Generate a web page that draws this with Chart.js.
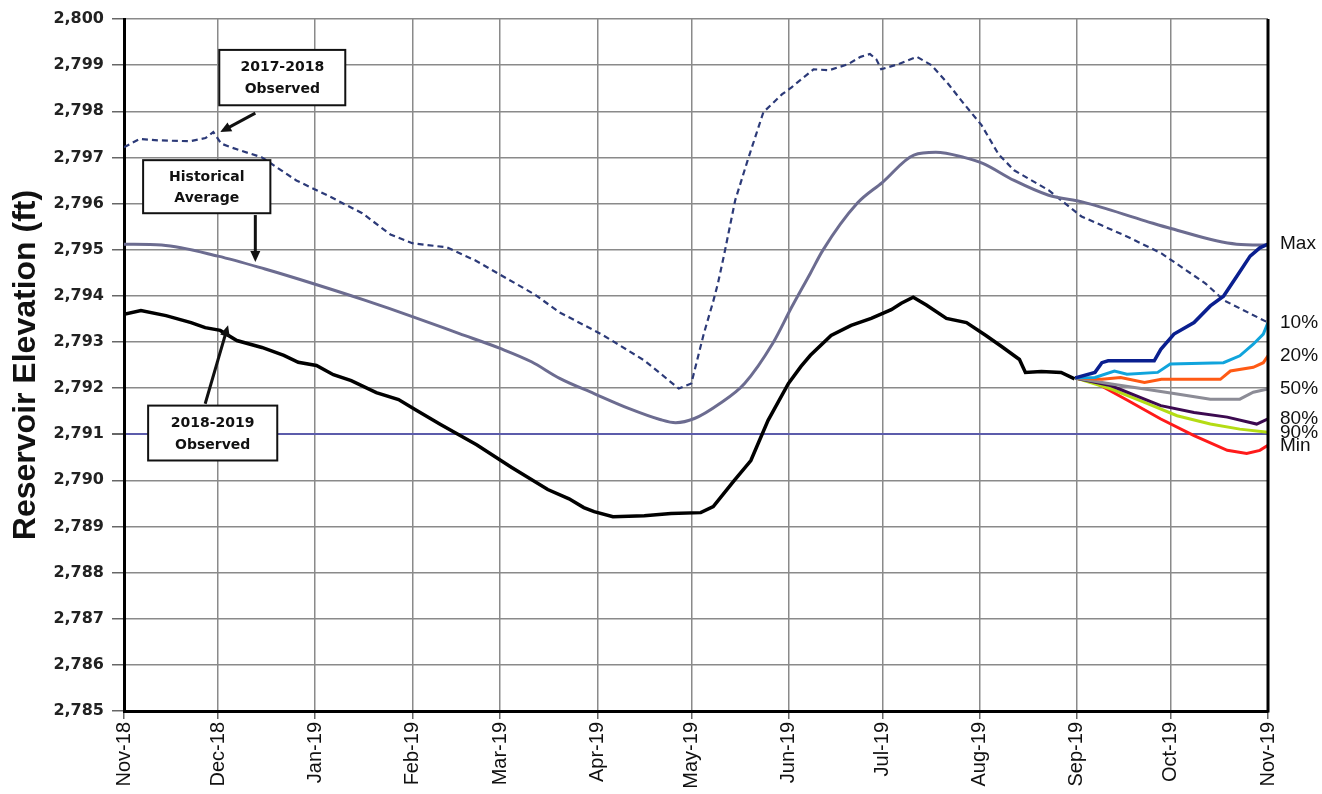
<!DOCTYPE html>
<html>
<head>
<meta charset="utf-8">
<script src="https://cdn.jsdelivr.net/npm/chart.js@4/dist/chart.umd.min.js"></script>
<style>
  html, body { margin: 0; padding: 0; background: #fff; }
  #wrap { width: 1322px; height: 794px; }
</style>
</head>
<body>
<div id="wrap"><canvas id="c" width="1322" height="794"></canvas></div>
<script>
// ---- Axis categories (days since 1 Nov 2018) ----
const monthDays   = [0, 30, 61, 92, 120, 151, 181, 212, 242, 273, 304, 334, 365];
const monthLabels = ['Nov-18','Dec-18','Jan-19','Feb-19','Mar-19','Apr-19','May-19','Jun-19','Jul-19','Aug-19','Sep-19','Oct-19','Nov-19'];
const yMin = 2785, yMax = 2800;

// ---- Historical Average ----
const histDays   = [0, 12, 30, 45, 61, 77, 92, 107, 120, 130, 139, 150, 161, 171, 176, 182, 190, 198, 207, 213, 219, 223, 234, 242, 252, 259, 268, 274, 284, 295, 306, 326, 334, 355, 365];
const histValues = [2795.12, 2795.10, 2794.86, 2794.58, 2794.25, 2793.90, 2793.55, 2793.18, 2792.86, 2792.57, 2792.21, 2791.88, 2791.56, 2791.32, 2791.25, 2791.34, 2791.66, 2792.10, 2792.97, 2793.75, 2794.49, 2794.99, 2796.01, 2796.46, 2797.05, 2797.11, 2797.00, 2796.87, 2796.50, 2796.18, 2796.03, 2795.62, 2795.46, 2795.12, 2795.10];

// ---- 2017-2018 Observed ----
const obs1718Days   = [0, 5, 11, 21, 26, 28.5, 31, 34, 44, 55, 66, 76, 85, 92, 103, 112, 131, 139, 150, 153, 166, 177, 181, 185, 188, 189.5, 191.5, 195, 199, 204, 210, 213, 220, 225, 231, 235, 238, 240, 241.6, 247, 253, 257.6, 263, 268, 273.6, 279, 284, 295, 305.5, 320.5, 331, 345, 351, 365];
const obs1718Values = [2797.22, 2797.40, 2797.37, 2797.35, 2797.42, 2797.55, 2797.30, 2797.22, 2797.00, 2796.50, 2796.14, 2795.79, 2795.33, 2795.14, 2795.05, 2794.77, 2794.03, 2793.64, 2793.25, 2793.14, 2792.60, 2791.99, 2792.10, 2793.18, 2793.88, 2794.27, 2794.90, 2796.07, 2796.94, 2797.98, 2798.37, 2798.52, 2798.91, 2798.89, 2799.02, 2799.18, 2799.24, 2799.13, 2798.91, 2799.02, 2799.18, 2799.00, 2798.59, 2798.16, 2797.70, 2797.07, 2796.72, 2796.29, 2795.72, 2795.27, 2794.92, 2794.27, 2793.90, 2793.42];

// ---- 2018-2019 Observed ----
const obs1819Days   = [0, 5.4, 13.4, 21.4, 25.9, 30.7, 36, 44, 51, 55.6, 61.4, 66.8, 72.5, 80.5, 87.6, 93, 101, 112.5, 123.7, 135.2, 142, 146.7, 150, 156, 166, 174.5, 184, 188, 194.6, 200, 205.5, 212, 216, 219, 225.6, 232, 238.4, 244.8, 248, 251.8, 256, 262.4, 268.8, 275, 280, 285.7, 287.6, 292.7, 299, 303.3];
const obs1819Values = [2793.60, 2793.68, 2793.57, 2793.42, 2793.31, 2793.25, 2793.03, 2792.88, 2792.71, 2792.56, 2792.49, 2792.29, 2792.16, 2791.90, 2791.75, 2791.53, 2791.21, 2790.77, 2790.28, 2789.80, 2789.60, 2789.41, 2789.32, 2789.21, 2789.23, 2789.28, 2789.30, 2789.43, 2789.99, 2790.43, 2791.30, 2792.10, 2792.47, 2792.71, 2793.14, 2793.36, 2793.51, 2793.70, 2793.84, 2793.97, 2793.80, 2793.51, 2793.42, 2793.14, 2792.90, 2792.62, 2792.34, 2792.36, 2792.34, 2792.20];

// ---- Projections (Sep 2019 - Nov 2019) ----
const maxDays   = [303.5, 309.8, 312, 314, 328.7, 330.8, 335, 341.4, 346.6, 350.8, 355, 359.3, 362.4, 365];
const maxValues = [2792.22, 2792.34, 2792.55, 2792.59, 2792.59, 2792.84, 2793.17, 2793.42, 2793.78, 2793.99, 2794.42, 2794.86, 2795.04, 2795.12];
const p10Days   = [303.5, 309.8, 316, 320, 329.8, 333.8, 350.8, 356, 360.3, 363.5, 365];
const p10Values = [2792.22, 2792.23, 2792.37, 2792.30, 2792.34, 2792.52, 2792.55, 2792.70, 2792.95, 2793.17, 2793.42];
const p20Days   = [303.5, 312, 318, 325.6, 331, 349.8, 353, 360.3, 363.5, 365];
const p20Values = [2792.22, 2792.19, 2792.23, 2792.12, 2792.19, 2792.19, 2792.37, 2792.45, 2792.55, 2792.70];
const p50Days   = [303.5, 315, 325.6, 336, 346.6, 356, 360.3, 365];
const p50Values = [2792.22, 2792.09, 2791.98, 2791.87, 2791.76, 2791.76, 2791.91, 2791.98];
const p80Days   = [303.5, 315, 325.6, 330.8, 341.4, 352, 361.4, 365];
const p80Values = [2792.22, 2792.05, 2791.76, 2791.62, 2791.47, 2791.37, 2791.22, 2791.33];
const p90Days   = [303.5, 315, 325.6, 336, 346.6, 356, 365];
const p90Values = [2792.22, 2791.98, 2791.69, 2791.40, 2791.22, 2791.11, 2791.04];
const minDays   = [303.5, 309.8, 320.3, 330.8, 341.4, 352, 358.2, 362.4, 365];
const minValues = [2792.22, 2792.12, 2791.73, 2791.33, 2790.97, 2790.65, 2790.58, 2790.65, 2790.76];

// ---- Text ----
const endLabels = ['Max', '10%', '20%', '50%', '80%', '90%', 'Min'];
const yTitle = 'Reservoir Elevation (ft)';
const notes = [
  { lines: ['2017-2018', 'Observed'],   box: [30.4, 2799.33, 70.6, 2798.13], arrow: [41.9, 2797.96, 30.7, 2797.55] },
  { lines: ['Historical', 'Average'],   box: [6.1, 2796.94, 46.7, 2795.79],  arrow: [41.9, 2795.75, 41.9, 2794.73] },
  { lines: ['2018-2019', 'Observed'],   box: [7.7, 2791.62, 48.9, 2790.43],  arrow: [25.9, 2791.66, 33.2, 2793.36] }
];

function pts(d, v) { return d.map((x, i) => ({ x: x, y: v[i] })); }

const projections = [
  { d: maxDays, v: maxValues, c: '#0a1f8f', w: 3.5 },
  { d: p10Days, v: p10Values, c: '#10a4dc', w: 3 },
  { d: p20Days, v: p20Values, c: '#ff5a14', w: 3 },
  { d: p50Days, v: p50Values, c: '#8c8c96', w: 3 },
  { d: p80Days, v: p80Values, c: '#3c0a50', w: 3 },
  { d: p90Days, v: p90Values, c: '#b4dc14', w: 3 },
  { d: minDays, v: minValues, c: '#ff1a1a', w: 3 }
];

const datasets = [];
projections.forEach((p, i) => {
  datasets.push({ label: endLabels[i], data: pts(p.d, p.v), borderColor: p.c, borderWidth: p.w, pointRadius: 0, tension: 0, order: 1, endLabel: endLabels[i] });
});
datasets.push({ label: '2018-2019 Observed', data: pts(obs1819Days, obs1819Values), borderColor: '#000000', borderWidth: 3.5, pointRadius: 0, tension: 0, order: 2 });
datasets.push({ label: 'Historical Average', data: pts(histDays, histValues), borderColor: '#6c6c90', borderWidth: 3, pointRadius: 0, cubicInterpolationMode: 'monotone', order: 3 });
datasets.push({ label: '2017-2018 Observed', data: pts(obs1718Days, obs1718Values), borderColor: '#2c3a78', borderWidth: 2.2, borderDash: [6, 4], pointRadius: 0, tension: 0, order: 4 });

const overlay = {
  id: 'overlay',
  afterDatasetsDraw(chart) {
    const ctx = chart.ctx, xs = chart.scales.x, ys = chart.scales.y, a = chart.chartArea;
    ctx.save();
    // right frame line
    ctx.strokeStyle = '#000'; ctx.lineWidth = 3;
    ctx.beginPath(); ctx.moveTo(a.right, a.top); ctx.lineTo(a.right, a.bottom + 1.5); ctx.stroke();
    // annotations
    notes.forEach(n => {
      const x1 = xs.getPixelForValue(n.box[0]), y1 = ys.getPixelForValue(n.box[1]);
      const x2 = xs.getPixelForValue(n.box[2]), y2 = ys.getPixelForValue(n.box[3]);
      ctx.fillStyle = '#fff'; ctx.fillRect(x1, y1, x2 - x1, y2 - y1);
      ctx.strokeStyle = '#111'; ctx.lineWidth = 2; ctx.strokeRect(x1, y1, x2 - x1, y2 - y1);
      ctx.fillStyle = '#111'; ctx.font = 'bold 14px "DejaVu Sans"'; ctx.textAlign = 'center'; ctx.textBaseline = 'middle';
      const cx = (x1 + x2) / 2, h = y2 - y1;
      ctx.fillText(n.lines[0], cx, y1 + h * 0.32);
      ctx.fillText(n.lines[1], cx, y1 + h * 0.72);
      // arrow
      const ax1 = xs.getPixelForValue(n.arrow[0]), ay1 = ys.getPixelForValue(n.arrow[1]);
      const ax2 = xs.getPixelForValue(n.arrow[2]), ay2 = ys.getPixelForValue(n.arrow[3]);
      const ang = Math.atan2(ay2 - ay1, ax2 - ax1), hl = 11, hw = 5;
      ctx.strokeStyle = '#111'; ctx.lineWidth = 3;
      ctx.beginPath(); ctx.moveTo(ax1, ay1);
      ctx.lineTo(ax2 - Math.cos(ang) * hl * 0.8, ay2 - Math.sin(ang) * hl * 0.8); ctx.stroke();
      ctx.beginPath();
      ctx.moveTo(ax2, ay2);
      ctx.lineTo(ax2 - Math.cos(ang) * hl - Math.sin(ang) * hw, ay2 - Math.sin(ang) * hl + Math.cos(ang) * hw);
      ctx.lineTo(ax2 - Math.cos(ang) * hl + Math.sin(ang) * hw, ay2 - Math.sin(ang) * hl - Math.cos(ang) * hw);
      ctx.closePath(); ctx.fillStyle = '#111'; ctx.fill();
    });
    // end labels
    ctx.font = '19px "Liberation Sans"'; ctx.textAlign = 'left'; ctx.textBaseline = 'middle'; ctx.fillStyle = '#111';
    chart.data.datasets.forEach((ds, i) => {
      if (!ds.endLabel) return;
      const meta = chart.getDatasetMeta(i);
      const last = meta.data[meta.data.length - 1];
      ctx.fillText(ds.endLabel, a.right + 12, last.y);
    });
    ctx.restore();
  }
};

new Chart(document.getElementById('c'), {
  type: 'line',
  data: { datasets: datasets },
  options: {
    responsive: false,
    animation: false,
    layout: { padding: { top: 19, right: 54, left: 0, bottom: 0 } },
    plugins: { legend: { display: false }, tooltip: { enabled: false } },
    scales: {
      x: {
        type: 'linear', min: 0, max: 365,
        afterBuildTicks: s => { s.ticks = monthDays.map(v => ({ value: v })); },
        afterFit: s => { s.height = 83; },
        ticks: {
          autoSkip: false, minRotation: 90, maxRotation: 90, padding: 3, color: '#111',
          font: { family: 'Liberation Sans', size: 20 },
          callback: v => monthLabels[monthDays.indexOf(v)]
        },
        grid: { color: '#8a8a8a', lineWidth: 1.5, tickLength: 8, tickColor: '#666' },
        border: { color: '#000', width: 3 }
      },
      y: {
        min: yMin, max: yMax,
        afterFit: s => { s.width = 124; },
        ticks: {
          stepSize: 1, padding: 8, color: '#222',
          font: { family: 'DejaVu Sans', size: 16, weight: 'bold' },
          callback: v => String(v).replace(/(\d)(\d{3})$/, '$1,$2')
        },
        grid: {
          color: c => (c.tick && c.tick.value === 2791) ? '#5c5cab' : '#8a8a8a',
          lineWidth: c => (c.tick && c.tick.value === 2791) ? 2 : 1.5,
          tickLength: 12, tickColor: '#666'
        },
        border: { color: '#000', width: 3 },
        title: {
          display: true, text: yTitle, color: '#111',
          font: { family: 'Liberation Sans', size: 32, weight: 'bold' },
          padding: { top: 7, bottom: 0 }
        }
      }
    }
  },
  plugins: [overlay]
});
</script>
</body>
</html>
